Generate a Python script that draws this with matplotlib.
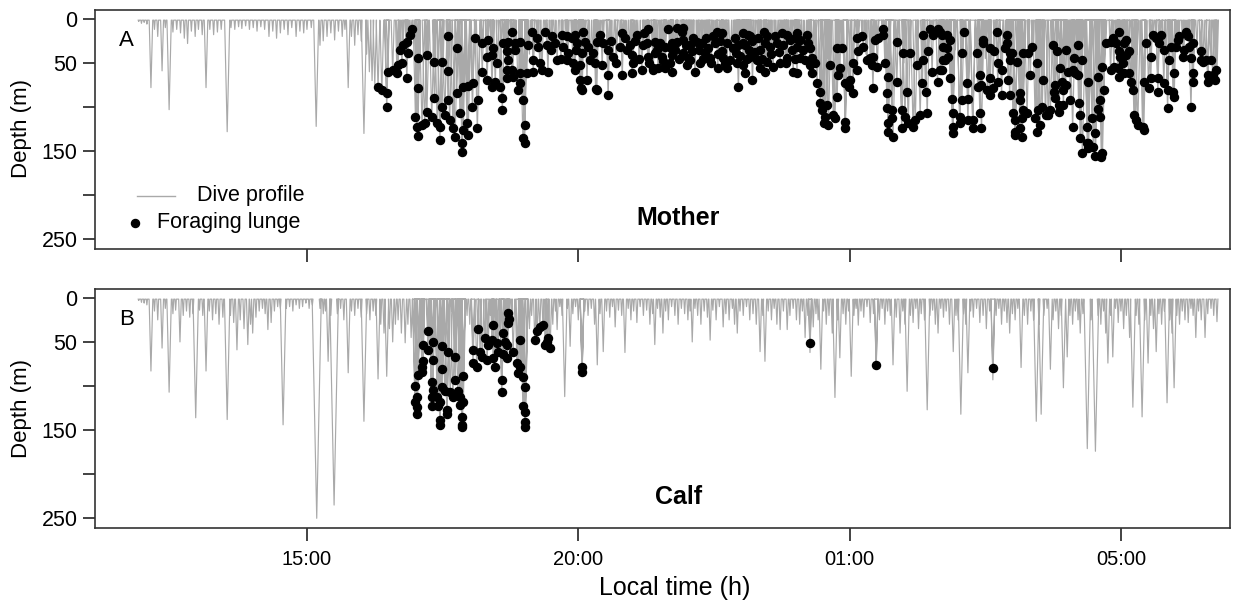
import numpy as np
import matplotlib.pyplot as plt

plt.rcParams['font.family'] = ['Liberation Sans', 'DejaVu Sans']

# time axis in hours since midnight of day 1 (25 = 01:00 next day)
tick_pos = [15, 20, 25, 30]
tick_labels = ["15:00", "20:00", "01:00", "05:00"]
depth_ticks = [0, 50, 100, 150, 200, 250]
depth_labels = ["0", "50", "", "150", "", "250"]

# mother: dives without lunges (time h, max depth m)
mother_dive_t = [11.90, 11.95, 12.00, 12.05, 12.125, 12.19, 12.25, 12.33, 12.39, 12.46, 12.53, 12.60,
                 12.67, 12.74, 12.80, 12.87, 12.94, 13.00, 13.07, 13.14, 13.21, 13.28, 13.35, 13.42,
                 13.53, 13.60, 13.67, 13.74, 13.80, 13.87, 13.94, 14.01, 14.08, 14.15, 14.22, 14.30,
                 14.37, 14.44, 14.51, 14.58, 14.65, 14.72, 14.80, 14.87, 14.94, 15.00, 15.08, 15.17,
                 15.24, 15.30, 15.37, 15.44, 15.51, 15.58, 15.65, 15.70, 15.76, 15.82, 15.88, 15.94,
                 16.00, 16.05, 16.10, 16.15, 16.20, 16.25,
                 19.10, 20.70, 21.60, 22.40, 23.00, 23.80, 24.60, 25.30, 26.00, 26.95, 27.50,
                 28.30, 29.00, 29.70, 30.30, 30.90, 31.40, 31.77]
mother_dive_d = [3, 5, 4, 6, 78, 12, 20, 59, 10, 103, 15, 12,
                 16, 22, 28, 14, 20, 12, 18, 78, 12, 18, 15, 12,
                 128, 10, 12, 9, 11, 8, 12, 10, 14, 9, 12, 20,
                 14, 22, 16, 12, 18, 10, 20, 14, 16, 12, 10, 122,
                 30, 25, 20, 16, 24, 14, 20, 12, 78, 20, 30, 18,
                 25, 130, 40, 60, 70, 75,
                 40, 35, 30, 25, 35, 30, 45, 40, 50, 35, 45,
                 40, 35, 50, 40, 45, 35, 60]

# mother: foraging lunges (time h, depth m)
mother_lunge_t = [16.31, 16.38, 16.47, 16.47, 16.49, 16.58, 16.66, 16.68, 16.71, 16.75, 16.77, 16.84,
                  16.86, 16.84, 16.90, 16.93, 17.04, 17.04, 17.21, 17.35, 17.49, 17.60, 17.60, 17.76,
                  17.00, 17.03, 17.04, 17.12, 17.17, 17.21, 17.30, 17.35, 17.40, 17.45, 17.45, 17.49,
                  17.54, 17.60, 17.63, 17.69, 17.73, 17.82, 17.86, 17.86, 17.88, 17.95, 17.97, 18.05,
                  18.14, 18.16, 17.76, 17.88, 17.97, 18.06,
                  18.10, 18.23, 18.34, 18.32, 18.41, 18.43, 18.51, 18.23, 18.32, 18.41, 18.47, 18.56,
                  18.62, 18.69, 18.60, 18.60,
                  18.78, 18.70, 18.83, 18.93, 18.83, 18.70, 18.68, 18.78, 18.93, 19.05, 19.17, 18.68,
                  18.79, 18.93, 18.89, 18.98, 19.01, 18.98, 19.01, 19.07, 19.15, 19.24, 19.26, 19.17,
                  19.29, 19.33, 19.44, 19.39, 19.52, 19.42, 19.57, 19.61, 19.70, 19.72, 19.79, 19.81,
                  19.88, 19.94, 19.98, 19.79, 19.90, 19.94, 20.03, 20.07, 20.12, 20.09, 20.18, 20.22,
                  20.27, 20.34, 20.40, 20.46, 20.31, 20.44, 20.03, 20.16, 20.07, 20.34, 20.55, 20.55,
                  20.55, 20.64, 20.77, 20.81, 20.86, 20.90, 20.81, 20.99, 21.01, 20.99, 21.08, 21.17,
                  21.22, 21.28, 21.26, 21.28, 21.38, 20.05, 20.32,
                  21.65, 21.82, 21.91, 21.93, 21.41, 21.51, 21.60, 21.73, 21.82, 21.93, 22.06, 22.19,
                  22.28, 21.41, 21.54, 21.73, 21.78, 21.69, 21.38, 21.47, 21.60, 21.73, 22.00, 22.15,
                  22.06, 22.24, 22.34, 22.43, 22.39, 22.48, 22.55, 22.65, 22.52, 22.65, 22.74, 22.67,
                  22.80, 22.90, 22.95, 23.04, 23.12, 23.16, 23.03, 23.14, 22.93, 23.04, 23.16, 23.29,
                  23.35, 23.48, 23.44, 23.53, 23.66, 23.75, 23.85, 23.90, 23.99, 24.03, 23.48, 23.59,
                  23.72, 23.85, 23.96, 23.08, 23.21, 22.95, 23.35, 23.44, 22.57, 22.74, 22.10, 21.93,
                  21.45, 21.56, 21.70, 21.85, 21.98, 22.02, 22.12, 22.22, 22.30, 22.36, 22.45, 22.58,
                  22.62, 22.70, 22.85, 22.88, 22.98, 23.08, 23.10, 23.20, 23.25, 23.31, 23.38, 23.42,
                  23.55, 23.62, 23.70, 23.78, 23.82, 23.93, 24.00, 20.60, 20.70, 20.95, 21.05, 21.12,
                  21.20, 21.30, 19.95, 19.68, 19.50,
                  24.03, 24.09, 24.22, 24.24, 24.14, 24.27, 24.09, 24.18, 24.31, 24.37, 24.27, 24.03,
                  24.31, 24.40, 24.46, 24.46, 24.59, 24.50, 24.55, 24.52, 24.61, 24.70, 24.73, 24.77,
                  24.64, 24.79, 24.82, 24.77, 24.86, 24.92, 24.92, 24.92, 24.98, 25.01, 25.06, 25.06,
                  25.14, 25.16, 25.14, 25.23, 25.25, 25.32, 25.38, 25.43, 25.41, 25.51, 25.43, 25.47,
                  25.52, 25.61, 25.61, 25.65, 25.71, 25.69, 25.69, 25.78, 25.71, 25.71, 25.80, 25.78,
                  25.87, 25.87, 25.96, 25.96, 26.02, 26.06, 25.98, 26.11, 26.08, 26.17, 26.21, 26.25,
                  26.30, 26.34, 26.36, 26.40, 26.43, 26.36, 26.45, 26.49, 26.54, 26.62, 26.67, 26.71,
                  26.52, 26.62, 26.67, 26.73,
                  26.79, 26.85, 26.73, 26.79, 26.75, 26.81, 26.70, 26.85, 26.88, 26.90, 26.90, 26.90,
                  27.03, 27.03, 27.07, 27.07, 27.10, 27.16, 27.18, 27.18, 27.27, 27.27, 27.34, 27.36,
                  27.40, 27.40, 27.43, 27.43, 27.45, 27.45, 27.58, 27.58, 27.54, 27.58, 27.64, 27.67,
                  27.73, 27.73, 27.80, 27.80, 27.71, 27.86, 27.90, 27.90, 27.95, 27.95, 27.92, 27.99,
                  27.95, 28.01, 28.05, 28.05, 28.05, 28.09, 28.14, 28.18, 28.14, 28.18, 28.14, 28.20,
                  28.27, 28.20, 28.29, 28.33, 28.37, 28.46, 28.42, 28.48, 28.55, 28.51, 28.46, 28.57,
                  28.61, 28.66, 28.70, 28.74, 28.76, 28.79, 28.83, 28.79, 28.85, 28.85, 28.88, 28.92,
                  28.94, 28.98, 28.98, 28.94, 29.03, 29.11, 29.13, 29.16, 29.20, 29.20, 29.11, 29.07,
                  29.22, 29.25, 29.29, 29.25, 29.29, 29.38, 29.38, 29.40, 29.40, 29.64, 29.66,
                  29.40, 29.49, 29.53, 29.53, 29.47, 29.57, 29.62, 29.62, 29.68, 29.57, 29.66, 29.72,
                  29.81, 29.85, 29.96, 29.91, 30.05, 30.09, 29.96, 29.99, 30.09, 30.14, 29.81, 29.87,
                  29.94, 29.96, 30.03, 30.05, 30.14, 30.18, 30.22, 30.24, 30.27, 30.31, 30.40, 30.42,
                  30.42, 30.46, 30.51, 30.55, 30.55, 30.59, 30.64, 30.68, 30.68, 30.70, 30.73, 30.79,
                  30.79, 30.86, 30.86, 30.88, 30.92, 30.96, 30.98, 30.98, 31.01, 31.05, 31.07, 31.14,
                  31.16, 31.20, 31.23, 31.25, 31.29, 31.33, 31.33, 31.33, 31.29, 31.47, 31.47, 31.51,
                  31.56, 31.66, 31.75, 31.60, 31.69, 31.60, 31.73]
mother_lunge_d = [77, 81, 84, 100, 60, 58, 61, 52, 35, 50, 30, 26,
                  39, 67, 18, 12, 44, 78, 41, 49, 49, 19, 59, 33,
                  111, 123, 133, 120, 118, 106, 111, 90, 118, 123, 137, 100,
                  109, 92, 115, 124, 134, 107, 141, 151, 126, 118, 132, 100,
                  124, 92, 84, 77, 76, 73,
                  22, 27, 24, 43, 41, 33, 50, 60, 69, 77, 72, 77,
                  27, 37, 90, 103,
                  15, 26, 27, 26, 35, 47, 58, 58, 61, 61, 60, 67,
                  66, 73, 81, 92, 120, 135, 141, 30, 15, 22, 32, 47,
                  50, 58, 60, 15, 20, 30, 27, 47, 18, 32, 20, 39,
                  22, 18, 27, 47, 50, 58, 52, 39, 26, 15, 32, 47,
                  39, 26, 18, 27, 50, 52, 69, 69, 81, 81, 64, 86,
                  35, 43, 32, 16, 22, 35, 64, 41, 50, 61, 18, 58,
                  16, 12, 27, 43, 56, 78, 80,
                  12, 10, 15, 10, 26, 27, 32, 27, 26, 24, 30, 26,
                  27, 39, 43, 41, 35, 50, 58, 56, 56, 60, 52, 60,
                  47, 50, 39, 44, 33, 20, 15, 16, 27, 37, 27, 44,
                  47, 39, 30, 16, 18, 20, 27, 35, 50, 52, 43, 47,
                  35, 20, 27, 32, 27, 16, 18, 24, 22, 32, 49, 55,
                  50, 44, 60, 61, 69, 77, 56, 60, 56, 56, 37, 39,
                  35, 48, 33, 45, 30, 44, 22, 35, 45, 22, 50, 40,
                  25, 50, 33, 22, 42, 30, 45, 25, 38, 22, 45, 15,
                  40, 20, 38, 30, 50, 35, 45, 25, 50, 30, 25, 45,
                  30, 50, 35, 45, 35,
                  16, 24, 18, 27, 35, 33, 44, 47, 44, 50, 52, 61,
                  61, 73, 83, 95, 98, 103, 111, 118, 120, 109, 112, 89,
                  52, 64, 56, 33, 33, 117, 124, 73, 77, 69, 84, 50,
                  58, 37, 22, 20, 32, 47, 44, 43, 52, 55, 78, 24,
                  22, 12, 18, 50, 66, 84, 101, 103, 118, 128, 134, 112,
                  26, 72, 103, 124, 111, 83, 39, 39, 118, 123, 115, 52,
                  109, 73, 47, 83, 107, 18, 37, 12, 18, 12, 15, 18,
                  60, 72, 58, 47,
                  18, 24, 32, 33, 47, 43, 58, 67, 91, 107, 123, 130,
                  111, 118, 92, 39, 15, 73, 91, 115, 115, 124, 39, 77,
                  64, 107, 124, 75, 27, 24, 33, 67, 81, 86, 78, 37,
                  72, 50, 58, 86, 15, 33, 18, 27, 39, 47, 69, 39,
                  86, 107, 115, 128, 132, 49, 84, 112, 124, 134, 92, 103,
                  107, 39, 39, 64, 32, 50, 112, 103, 100, 120, 128, 69,
                  109, 109, 103, 30, 83, 75, 37, 90, 98, 106, 56, 72,
                  81, 35, 75, 98, 60, 58, 44, 61, 30, 64, 123, 92,
                  95, 109, 47, 135, 152, 123, 141, 72, 147, 157, 152,
                  141, 145, 155, 130, 112, 102, 92, 111, 81, 66, 55, 27,
                  26, 22, 15, 27, 27, 24, 37, 43, 41, 37, 58, 55,
                  56, 66, 50, 61, 61, 72, 81, 109, 115, 120, 123, 126,
                  72, 27, 78, 67, 43, 18, 22, 67, 83, 27, 18, 35,
                  73, 81, 101, 47, 32, 83, 89, 61, 32, 24, 20, 43,
                  35, 15, 20, 32, 44, 27, 61, 72, 100, 37, 47, 49,
                  47, 47, 58, 64, 64, 72, 69]

# calf: dives without lunges
calf_dive_t = [11.90, 11.95, 12.00, 12.05, 12.125, 12.19, 12.25, 12.33, 12.39, 12.46, 12.53, 12.58,
               12.66, 12.72, 12.78, 12.84, 12.90, 12.95, 13.02, 13.08, 13.14, 13.20, 13.26, 13.32,
               13.38, 13.45, 13.53, 13.59, 13.65, 13.71, 13.77, 13.84, 13.91, 13.96, 14.00, 14.06,
               14.12, 14.18, 14.23, 14.28, 14.34, 14.40, 14.46, 14.51, 14.56, 14.62, 14.68, 14.74,
               14.80, 14.86, 14.92, 14.98, 15.04, 15.10, 15.18, 15.24, 15.30, 15.34, 15.39, 15.44,
               15.50, 15.56, 15.62, 15.68, 15.76, 15.82, 15.88, 15.94, 16.00, 16.05, 16.10, 16.16,
               16.22, 16.27, 16.31, 16.36, 16.42, 16.47, 16.52, 16.58, 16.63, 16.68, 16.74, 16.81,
               16.86, 16.92, 17.15, 17.36, 17.67, 17.95, 18.00, 18.38, 18.55, 18.77, 19.10, 19.14,
               19.53, 19.58, 19.61, 19.66, 19.70, 19.75, 19.80, 19.85, 19.90, 19.95, 20.00, 20.07,
               20.12, 20.18, 20.24, 20.30, 20.35, 20.40, 20.46, 20.52, 20.58, 20.63, 20.68, 20.74,
               20.80, 20.86, 20.92, 20.97, 21.02, 21.08, 21.14, 21.20, 21.26, 21.32, 21.37, 21.41,
               21.46, 21.51, 21.56, 21.61, 21.66, 21.72, 21.78, 21.84, 21.90, 21.96, 22.02, 22.06,
               22.10, 22.15, 22.20, 22.26, 22.32, 22.38, 22.43, 22.48, 22.54, 22.60, 22.67, 22.72,
               22.78, 22.84, 22.88, 22.93, 22.98, 23.04, 23.10, 23.16, 23.22, 23.28, 23.35, 23.40,
               23.44, 23.50, 23.56, 23.61, 23.66, 23.72, 23.78, 23.85, 23.90, 23.96, 24.02, 24.08,
               24.13, 24.18, 24.23, 24.27, 24.33, 24.38, 24.42, 24.47, 24.52, 24.57, 24.62, 24.68,
               24.73, 24.78, 24.82, 24.88, 24.93, 24.98, 25.03, 25.08, 25.12, 25.16, 25.21, 25.26,
               25.32, 25.38, 25.44, 25.49, 25.55, 25.60, 25.65, 25.70, 25.75, 25.80, 25.86, 25.93,
               25.98, 26.02, 26.06, 26.12, 26.17, 26.22, 26.27, 26.32, 26.38, 26.43, 26.48, 26.53,
               26.58, 26.63, 26.68, 26.73, 26.78, 26.84, 26.91, 26.96, 27.00, 27.05, 27.10, 27.14,
               27.18, 27.23, 27.28, 27.34, 27.40, 27.46, 27.52, 27.58, 27.64, 27.70, 27.75, 27.80,
               27.85, 27.90, 27.95, 28.00, 28.05, 28.10, 28.16, 28.22, 28.28, 28.34, 28.39, 28.44,
               28.49, 28.53, 28.58, 28.64, 28.70, 28.75, 28.80, 28.85, 28.90, 28.94, 29.01, 29.06,
               29.11, 29.16, 29.21, 29.25, 29.30, 29.38, 29.45, 29.53, 29.58, 29.63, 29.68, 29.72,
               29.76, 29.81, 29.85, 29.90, 29.95, 30.00, 30.05, 30.10, 30.16, 30.22, 30.28, 30.33,
               30.39, 30.44, 30.50, 30.55, 30.60, 30.65, 30.70, 30.75, 30.80, 30.85, 30.90, 30.94,
               30.98, 31.03, 31.08, 31.13, 31.18, 31.24, 31.29, 31.33, 31.38, 31.43, 31.48, 31.55,
               31.60, 31.66, 31.71, 31.77]
calf_dive_d = [3, 5, 6, 8, 83, 15, 25, 57, 12, 107, 18, 14,
               50, 20, 15, 22, 18, 136, 14, 20, 83, 15, 25, 18,
               30, 22, 138, 20, 28, 59, 25, 35, 53, 30, 40, 22,
               15, 12, 18, 36, 28, 15, 10, 12, 144, 12, 10, 15,
               8, 12, 10, 6, 12, 8, 250, 12, 18, 15, 72, 20,
               235, 18, 12, 25, 85, 15, 20, 12, 22, 140, 18, 25,
               15, 20, 92, 30, 40, 89, 35, 50, 30, 25, 40, 51,
               30, 45, 20, 25, 15, 20, 30, 20, 15, 25, 35, 20,
               30, 15, 36, 10, 20, 112, 12, 55, 18, 10, 25, 84,
               15, 20, 12, 30, 76, 18, 61, 15, 22, 10, 33, 14,
               20, 62, 12, 25, 15, 28, 10, 20, 14, 30, 18, 53,
               12, 22, 40, 15, 25, 10, 20, 30, 12, 18, 25, 15,
               50, 12, 20, 30, 15, 22, 48, 14, 25, 10, 33, 18,
               25, 12, 30, 40, 15, 20, 10, 25, 18, 30, 61, 20,
               72, 15, 25, 12, 30, 36, 15, 36, 20, 12, 25, 30,
               15, 45, 20, 62, 33, 18, 25, 81, 15, 30, 20, 40,
               113, 25, 68, 18, 30, 15, 89, 20, 12, 31, 15, 22,
               10, 28, 18, 76, 25, 12, 30, 15, 20, 76, 22, 40,
               15, 30, 106, 20, 28, 12, 35, 18, 25, 127, 20, 14,
               30, 40, 12, 22, 15, 30, 61, 20, 25, 132, 18, 30,
               85, 15, 22, 12, 28, 20, 35, 15, 93, 20, 12, 30,
               15, 28, 40, 18, 25, 12, 79, 20, 30, 15, 25, 140,
               30, 132, 20, 12, 81, 25, 15, 35, 20, 102, 67, 20,
               30, 15, 25, 40, 18, 171, 25, 174, 20, 30, 15, 40,
               74, 20, 67, 12, 28, 15, 35, 20, 45, 124, 20, 30,
               135, 25, 74, 20, 35, 61, 18, 30, 15, 119, 25, 40,
               102, 20, 30, 15, 25, 28, 12, 20, 45, 15, 25, 45,
               18, 12, 20, 27]

# calf: foraging lunges
calf_lunge_t = [16.99, 17.03, 16.99, 17.03, 17.03, 17.05, 17.12, 17.12, 17.14, 17.14, 17.23, 17.23,
                17.32, 17.32, 17.30, 17.32, 17.30, 17.30, 17.40, 17.45, 17.41, 17.45, 17.45, 17.49,
                17.49, 17.49, 17.54, 17.58, 17.58, 17.60, 17.64, 17.69, 17.73, 17.73, 17.78, 17.82,
                17.82, 17.86, 17.86, 17.86, 17.88, 17.88, 18.06, 18.06, 18.13, 18.15, 18.19, 18.23,
                18.28, 18.32, 18.34, 18.41, 18.43, 18.43, 18.46, 18.50, 18.52, 18.59, 18.59, 18.61,
                18.61, 18.65, 18.69, 18.69, 18.71, 18.72, 18.71, 18.80, 18.87, 18.89, 18.93, 18.93,
                18.98, 19.02, 18.98, 19.02, 19.02, 19.02, 19.20, 19.24, 19.29, 19.35, 19.39, 19.42,
                19.44, 19.48, 20.07, 20.07, 24.27, 25.49, 27.64]
calf_lunge_d = [100, 112, 118, 124, 132, 87, 84, 78, 72, 53, 59, 38,
                50, 70, 96, 104, 113, 123, 112, 118, 123, 138, 144, 55,
                81, 101, 106, 127, 132, 61, 107, 112, 67, 93, 106, 112,
                121, 135, 144, 147, 89, 118, 59, 74, 79, 35, 61, 67,
                45, 70, 53, 48, 31, 68, 78, 51, 61, 93, 107, 64,
                40, 50, 68, 53, 28, 24, 17, 61, 74, 85, 48, 78,
                90, 101, 123, 130, 141, 147, 48, 38, 33, 31, 53, 50,
                45, 57, 79, 84, 51, 76, 80]

SURF = 1.5
GREY = "#a9a9a9"


def dive_profile(dive_t, dive_d, lunge_t, lunge_d):
    # each dive drawn as a narrow V from the surface; lunge dives reach just below the lunge
    t = np.concatenate([dive_t, lunge_t])
    d = np.concatenate([dive_d, np.asarray(lunge_d, float) + 4])
    order = np.argsort(t, kind="stable")
    t, d = t[order], d[order]
    half = 0.009 + d * 0.0003
    xs = np.column_stack([t - half, t, t + half]).ravel()
    ys = np.column_stack([np.full_like(d, SURF), d, np.full_like(d, SURF)]).ravel()
    return xs, ys


W, H = 1259, 604
fig = plt.figure(figsize=(W / 100, H / 100), dpi=100)
axA = fig.add_axes([95 / W, 1 - 249 / H, 1135 / W, 239 / H])
axB = fig.add_axes([95 / W, 1 - 528 / H, 1135 / W, 239 / H])

panels = [
    (axA, mother_dive_t, mother_dive_d, mother_lunge_t, mother_lunge_d, "A", "Mother"),
    (axB, calf_dive_t, calf_dive_d, calf_lunge_t, calf_lunge_d, "B", "Calf"),
]
for ax, dt, dd, lt, ld, letter, name in panels:
    xs, ys = dive_profile(dt, dd, lt, ld)
    ax.plot(xs, ys, color=GREY, lw=0.85, zorder=1)
    ax.plot(lt, ld, "o", color="black", ms=5.8, mec="black", zorder=2)
    ax.set_xlim(11.094, 32.01)
    ax.set_ylim(261, -10)
    ax.set_yticks(depth_ticks)
    ax.set_yticklabels(depth_labels)
    ax.set_xticks(tick_pos)
    ax.tick_params(axis="both", direction="out", length=9, width=1.2, color="#222222",
                   labelsize=15.5)
    ax.tick_params(axis="x", labelsize=14.5, pad=7)
    for sp in ax.spines.values():
        sp.set_linewidth(1.2)
        sp.set_color("#333333")
    ax.text(0.021, 0.874, letter, transform=ax.transAxes, fontsize=16, va="center", ha="left")
    ax.text(0.514, 0.128, name, transform=ax.transAxes, fontsize=18, fontweight="bold",
            va="center", ha="center")

axA.set_xticklabels([])
axB.set_xticklabels(tick_labels)

# legend drawn in panel A
axA.plot([0.037, 0.0705], [0.222, 0.222], color=GREY, lw=1.0, transform=axA.transAxes)
axA.text(0.0899, 0.222, "Dive profile", transform=axA.transAxes, fontsize=15.5, va="center")
axA.plot([0.0352], [0.109], "o", color="black", ms=5.8, transform=axA.transAxes)
axA.text(0.0546, 0.109, "Foraging lunge", transform=axA.transAxes, fontsize=15.5, va="center")

fig.text(22 / W, 1 - 128 / H, "Depth (m)", rotation=90, fontsize=16, va="center", ha="center")
fig.text(22 / W, 1 - 408 / H, "Depth (m)", rotation=90, fontsize=16, va="center", ha="center")
fig.text(675 / W, 1 - 588 / H, "Local time (h)", fontsize=18, va="center", ha="center")

fig.savefig("out.png", dpi=100)
